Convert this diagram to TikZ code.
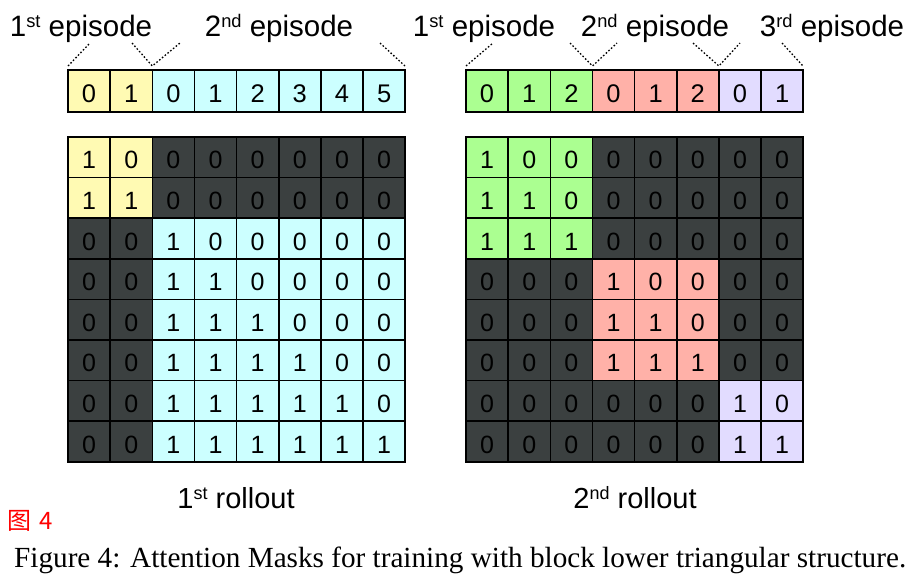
\documentclass[tikz,border=0pt]{standalone}
\usepackage{fontspec}
\setmainfont{Liberation Serif}
\newfontfamily\hv{Liberation Sans}
\newfontfamily\cjk{Noto Sans CJK SC}
\newcommand\supx[1]{\raisebox{0.3em}{\scalebox{0.62}{#1}}}
\definecolor{LA}{HTML}{FFFAB3}
\definecolor{LB}{HTML}{CCFFFF}
\definecolor{RA}{HTML}{ABFF91}
\definecolor{RB}{HTML}{FFB1A8}
\definecolor{RC}{HTML}{E2DCFF}
\definecolor{Dk}{HTML}{3B4040}
\tikzset{
  cellbox/.style={draw=black, line width=1.6pt, minimum width=42.15pt, minimum height=40.6pt,
    inner sep=0pt, font=\hv\fontsize{25}{25}\selectfont, text=black,
    text height=23pt, text depth=0pt},
  toprow/.style={cellbox, minimum height=42pt, font=\hv\fontsize{25.5}{25}\selectfont,
    text height=23.8pt},
  eplabel/.style={anchor=base, inner sep=0pt, font=\hv\fontsize{29.5}{30}\selectfont},
  rolllabel/.style={anchor=base, inner sep=0pt, font=\hv\fontsize{29}{30}\selectfont},
  dotline/.style={line width=1.3pt, dash pattern=on 1.6pt off 2pt}
}
\begin{document}
\begin{tikzpicture}[x=1pt,y=-1pt]
\useasboundingbox (0,0) rectangle (917,579);
% ---------- left: top row ----------
\foreach \c in {0,...,7}{
  \pgfmathtruncatemacro\e{{0,0,1,1,1,1,1,1}[\c]}
  \pgfmathtruncatemacro\n{{0,1,0,1,2,3,4,5}[\c]}
  \ifnum\e=0 \def\fc{LA}\else\def\fc{LB}\fi
  \node[toprow, fill=\fc] (LT\c) at ({68+42.15*(\c+0.5)},91) {\n};
}
% ---------- left: matrix ----------
\foreach \r in {0,...,7}{
  \foreach \c in {0,...,7}{
    \pgfmathtruncatemacro\er{{0,0,1,1,1,1,1,1}[\r]}
    \pgfmathtruncatemacro\ec{{0,0,1,1,1,1,1,1}[\c]}
    \pgfmathtruncatemacro\v{and(\er==\ec,\c<\r+1)}
    \ifnum\er=\ec
      \ifnum\er=0 \def\fc{LA}\else\def\fc{LB}\fi
    \else\def\fc{Dk}\fi
    \node[cellbox, fill=\fc] (LM\r-\c) at ({68+42.15*(\c+0.5)},{137+40.6*(\r+0.5)}) {\v};
  }
}
% ---------- right: top row ----------
\foreach \c in {0,...,7}{
  \pgfmathtruncatemacro\e{{0,0,0,1,1,1,2,2}[\c]}
  \pgfmathtruncatemacro\n{{0,1,2,0,1,2,0,1}[\c]}
  \ifcase\e \def\fc{RA}\or\def\fc{RB}\else\def\fc{RC}\fi
  \node[toprow, fill=\fc] (RT\c) at ({466+42.15*(\c+0.5)},91) {\n};
}
% ---------- right: matrix ----------
\foreach \r in {0,...,7}{
  \foreach \c in {0,...,7}{
    \pgfmathtruncatemacro\er{{0,0,0,1,1,1,2,2}[\r]}
    \pgfmathtruncatemacro\ec{{0,0,0,1,1,1,2,2}[\c]}
    \pgfmathtruncatemacro\v{and(\er==\ec,\c<\r+1)}
    \ifnum\er=\ec
      \ifcase\er \def\fc{RA}\or\def\fc{RB}\else\def\fc{RC}\fi
    \else\def\fc{Dk}\fi
    \node[cellbox, fill=\fc] (RM\r-\c) at ({466+42.15*(\c+0.5)},{137+40.6*(\r+0.5)}) {\v};
  }
}
% ---------- episode labels ----------
\node[eplabel] (lab1) at (81,36) {1\supx{st} episode};
\node[eplabel] (lab2) at (279,36) {2\supx{nd} episode};
\node[eplabel] (lab3) at (484,36) {1\supx{st} episode};
\node[eplabel] (lab4) at (655,36) {2\supx{nd} episode};
\node[eplabel] (lab5) at (832,36) {3\supx{rd} episode};
% ---------- dotted guide lines ----------
\coordinate (a1) at (68,66);   \coordinate (a2) at (90,43);
\coordinate (a3) at (132,43);  \coordinate (a4) at (152.3,66);
\coordinate (a5) at (180,43);
\coordinate (a6) at (380,43);  \coordinate (a7) at (405,66);
\draw[dotline] (a1) -- (a2);
\draw[dotline] (a3) -- (a4) -- (a5);
\draw[dotline] (a6) -- (a7);
\coordinate (b1) at (466,66);   \coordinate (b2) at (493,43);
\coordinate (b3) at (570,43);   \coordinate (b4) at (592.5,66);
\coordinate (b5) at (617,43);
\coordinate (b6) at (693,43);   \coordinate (b7) at (718.9,66);
\coordinate (b8) at (740,43);
\coordinate (b9) at (782,43);   \coordinate (b10) at (803,66);
\draw[dotline] (b1) -- (b2);
\draw[dotline] (b3) -- (b4) -- (b5);
\draw[dotline] (b6) -- (b7) -- (b8);
\draw[dotline] (b9) -- (b10);
% ---------- rollout labels ----------
\node[rolllabel] (ro1) at (236,508) {1\supx{st} rollout};
\node[rolllabel] (ro2) at (635,508) {2\supx{nd} rollout};
% ---------- figure tag and caption ----------
\node[anchor=base west, inner sep=0pt, text=red, font=\cjk\fontsize{24}{24}\selectfont] (tag) at (7,529) {图\hspace{0.33em}4};
\node[anchor=base west, inner sep=0pt, font=\fontsize{29.2}{30}\selectfont] (cap) at (14,567.5)
  {Figure 4: Attention Masks for training with block lower triangular structure.};
\end{tikzpicture}
\end{document}
